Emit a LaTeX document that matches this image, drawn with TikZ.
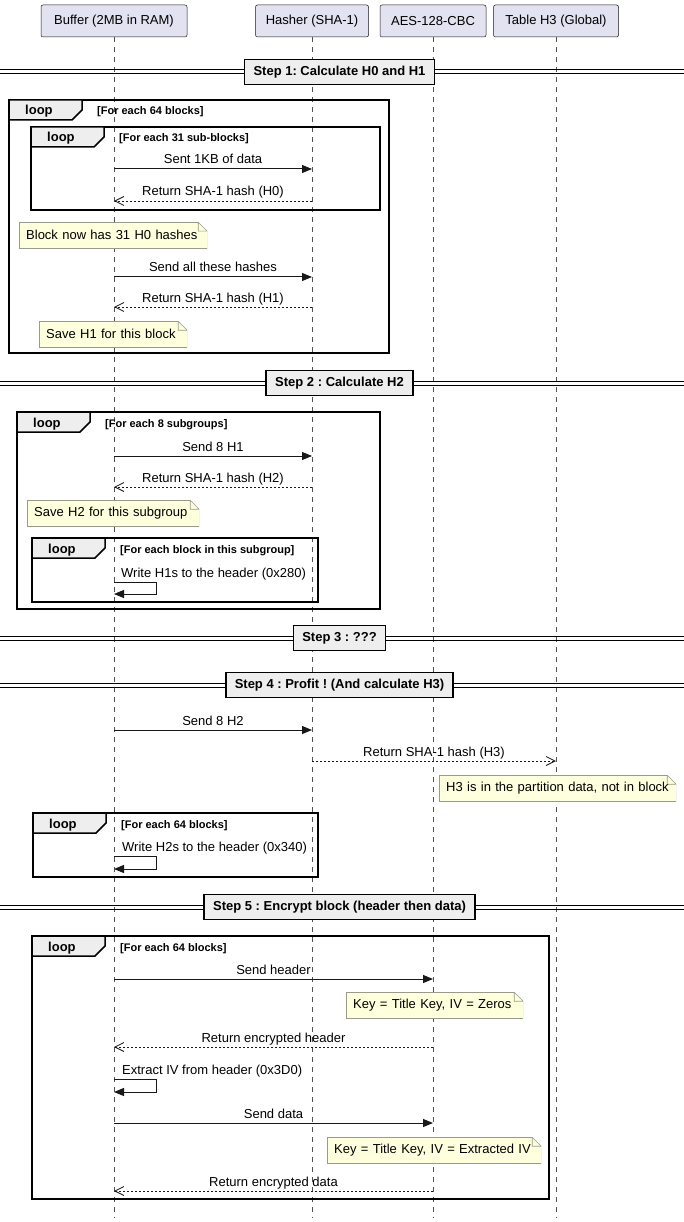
\documentclass[tikz,border=0pt]{standalone}
\usepackage{fontspec}
\setmainfont{Liberation Sans}
\usetikzlibrary{arrows.meta}
\definecolor{partfill}{HTML}{E2E2F0}
\definecolor{partline}{HTML}{181818}
\definecolor{notefill}{HTML}{FEFFDD}
\definecolor{noteline}{HTML}{9A9A8C}
\definecolor{greyfill}{HTML}{EEEEEE}
\newcommand{\msgfont}{\fontsize{13}{15}\selectfont}
\newcommand{\condfont}{\bfseries\fontsize{11}{13}\selectfont}
\frenchspacing
\tikzset{
  part/.style={draw=partline, fill=partfill, rounded corners=2pt, line width=0.5pt,
    minimum height=32pt, inner xsep=0pt, font=\msgfont},
  life/.style={draw=partline!75, line width=0.6pt, dash pattern=on 5pt off 5pt},
  loopframe/.style={draw=black, line width=1.5pt},
  looptab/.style={loopframe, fill=greyfill},
  looplbl/.style={anchor=base west, inner sep=0pt, font=\bfseries\msgfont},
  condlbl/.style={anchor=base west, inner sep=0pt, font=\condfont},
  call/.style={draw=partline, line width=1pt, -{Triangle[length=10pt,width=8pt]}},
  ret/.style={draw=partline, line width=0.8pt, dash pattern=on 2pt off 2pt,
    -{Straight Barb[length=9pt,width=9pt]}},
  msg/.style={anchor=base, inner sep=0pt, yshift=5pt, font=\msgfont},
  selfmsg/.style={anchor=base west, inner sep=0pt, font=\msgfont},
  notebox/.style={fill=notefill, text width=#1, inner xsep=7pt, inner ysep=0pt,
    minimum height=26pt, align=left, anchor=north west, font=\msgfont,
    path picture={
      \fill[white] ([xshift=-9pt]path picture bounding box.north east)
        -- (path picture bounding box.north east)
        -- ([yshift=-9pt]path picture bounding box.north east) -- cycle;
      \draw[noteline, line width=1.2pt] ([xshift=-9pt]path picture bounding box.north east)
        -- (path picture bounding box.north west)
        -- (path picture bounding box.south west)
        -- (path picture bounding box.south east)
        -- ([yshift=-9pt]path picture bounding box.north east);
      \draw[noteline, line width=0.6pt] ([xshift=-9pt]path picture bounding box.north east)
        -- ([yshift=-9pt]path picture bounding box.north east)
        ([xshift=-9pt]path picture bounding box.north east)
        |- ([yshift=-9pt]path picture bounding box.north east);
    }},
  stepbox/.style={draw=black, line width=1.5pt, fill=greyfill, inner xsep=9pt,
    minimum height=25pt, font=\bfseries\msgfont},
  sepline/.style={draw=black, line width=1pt},
}
\begin{document}
\begin{tikzpicture}[x=1pt,y=-1pt]
\useasboundingbox (0,0) rectangle (684,1222);
% participants
\node[part, minimum width=146pt] (buf) at (114,21) {Buffer (2MB in RAM)};
\node[part, minimum width=113pt] (hash) at (312,21) {Hasher (SHA-1)};
\node[part, minimum width=106pt] (aes) at (433,21) {AES-128-CBC};
\node[part, minimum width=125pt] (tab) at (556,21) {Table H3 (Global)};
% lifelines
\coordinate (bufend) at (114,1218);
\coordinate (hashend) at (312,1218);
\coordinate (aesend) at (433,1218);
\coordinate (tabend) at (556,1218);
\draw[life] (buf) -- (bufend);
\draw[life] (hash) -- (hashend);
\draw[life] (aes) -- (aesend);
\draw[life] (tab) -- (tabend);
% step 1
\draw[sepline] (0,70) -- (684,70) (0,74) -- (684,74);
\node[stepbox] (st1) at (339.5,72) {Step 1: Calculate H0 and H1};
\draw[loopframe] (9,100) rectangle (389,353);
\draw[looptab] (9,100) -- (82,100) -- (82,110) -- (72,120) -- (9,120) -- cycle;
\node[looplbl] (lp1) at (25,115) {loop};
\node[condlbl] (cd1) at (97,115) {[For each 64 blocks]};
\draw[loopframe] (31,127) rectangle (380,210);
\draw[looptab] (31,127) -- (104,127) -- (104,137) -- (94,147) -- (31,147) -- cycle;
\node[looplbl] (lp2) at (47,142) {loop};
\node[condlbl] (cd2) at (119,142) {[For each 31 sub-blocks]};
\coordinate (m1a) at (114,169);
\coordinate (m1b) at (312,169);
\draw[call] (m1a) -- node[msg] (t1) {Sent 1KB of data} (m1b);
\coordinate (m2a) at (312,201);
\coordinate (m2b) at (114,201);
\draw[ret] (m2a) -- node[msg] (t2) {Return SHA-1 hash (H0)} (m2b);
\node[notebox=174pt] (n1) at (19,222) {Block now has 31 H0 hashes};
\coordinate (m3a) at (114,277);
\coordinate (m3b) at (312,277);
\draw[call] (m3a) -- node[msg] (t3) {Send all these hashes} (m3b);
\coordinate (m4a) at (312,307);
\coordinate (m4b) at (114,307);
\draw[ret] (m4a) -- node[msg] (t4) {Return SHA-1 hash (H1)} (m4b);
\node[notebox=134pt] (n2) at (39,321) {Save H1 for this block};
% step 2
\draw[sepline] (0,381) -- (684,381) (0,385) -- (684,385);
\node[stepbox] (st2) at (339.5,383) {Step 2 : Calculate H2};
\draw[loopframe] (17,412) rectangle (380,609);
\draw[looptab] (17,412) -- (90,412) -- (90,422) -- (80,432) -- (17,432) -- cycle;
\node[looplbl] (lp3) at (33,427) {loop};
\node[condlbl] (cd3) at (105,427) {[For each 8 subgroups]};
\coordinate (m5a) at (114,456);
\coordinate (m5b) at (312,456);
\draw[call] (m5a) -- node[msg] (t5) {Send 8 H1} (m5b);
\coordinate (m6a) at (312,487);
\coordinate (m6b) at (114,487);
\draw[ret] (m6a) -- node[msg] (t6) {Return SHA-1 hash (H2)} (m6b);
\node[notebox=158pt] (n3) at (27,500) {Save H2 for this subgroup};
\draw[loopframe] (32,538) rectangle (318,602);
\draw[looptab] (32,538) -- (105,538) -- (105,548) -- (95,558) -- (32,558) -- cycle;
\node[looplbl] (lp4) at (48,553) {loop};
\node[condlbl] (cd4) at (120,553) {[For each block in this subgroup]};
\coordinate (s1a) at (114,582);
\coordinate (s1b) at (114,594);
\draw[call] (s1a) -- ++(42,0) |- (s1b);
\node[selfmsg] (t7) at (121,577) {Write H1s to the header (0x280)};
% step 3
\draw[sepline] (0,636) -- (684,636) (0,640) -- (684,640);
\node[stepbox] (st3) at (339.5,638) {Step 3 : ???};
% step 4
\draw[sepline] (0,683) -- (684,683) (0,687) -- (684,687);
\node[stepbox] (st4) at (339.5,685) {Step 4 : Profit ! (And calculate H3)};
\coordinate (m8a) at (114,730);
\coordinate (m8b) at (312,730);
\draw[call] (m8a) -- node[msg] (t8) {Send 8 H2} (m8b);
\coordinate (m9a) at (312,761);
\coordinate (m9b) at (556,761);
\draw[ret] (m9a) -- node[msg] (t9) {Return SHA-1 hash (H3)} (m9b);
\node[notebox=223pt] (n4) at (439,775) {H3 is in the partition data, not in block};
\draw[loopframe] (33,813) rectangle (318,877);
\draw[looptab] (33,813) -- (106,813) -- (106,823) -- (96,833) -- (33,833) -- cycle;
\node[looplbl] (lp5) at (49,828) {loop};
\node[condlbl] (cd5) at (121,828) {[For each 64 blocks]};
\coordinate (s2a) at (114,856);
\coordinate (s2b) at (114,869);
\draw[call] (s2a) -- ++(42,0) |- (s2b);
\node[selfmsg] (t10) at (122,851) {Write H2s to the header (0x340)};
% step 5
\draw[sepline] (0,905) -- (684,905) (0,909) -- (684,909);
\node[stepbox] (st5) at (339.5,907) {Step 5 : Encrypt block (header then data)};
\draw[loopframe] (32,936) rectangle (549,1199);
\draw[looptab] (32,936) -- (105,936) -- (105,946) -- (95,956) -- (32,956) -- cycle;
\node[looplbl] (lp6) at (48,951) {loop};
\node[condlbl] (cd6) at (120,951) {[For each 64 blocks]};
\coordinate (m10a) at (114,979);
\coordinate (m10b) at (433,979);
\draw[call] (m10a) -- node[msg] (t11) {Send header} (m10b);
\node[notebox=163pt] (n5) at (346,992) {Key = Title Key, IV = Zeros};
\coordinate (m11a) at (433,1047);
\coordinate (m11b) at (114,1047);
\draw[ret] (m11a) -- node[msg] (t12) {Return encrypted header} (m11b);
\coordinate (s3a) at (114,1079);
\coordinate (s3b) at (114,1092);
\draw[call] (s3a) -- ++(42,0) |- (s3b);
\node[selfmsg] (t13) at (122,1074) {Extract IV from header (0x3D0)};
\coordinate (m12a) at (114,1123);
\coordinate (m12b) at (433,1123);
\draw[call] (m12a) -- node[msg] (t14) {Send data} (m12b);
\node[notebox=200pt] (n6) at (327,1137) {Key = Title Key, IV = Extracted IV};
\coordinate (m13a) at (433,1191);
\coordinate (m13b) at (114,1191);
\draw[ret] (m13a) -- node[msg] (t15) {Return encrypted data} (m13b);
\end{tikzpicture}
\end{document}
